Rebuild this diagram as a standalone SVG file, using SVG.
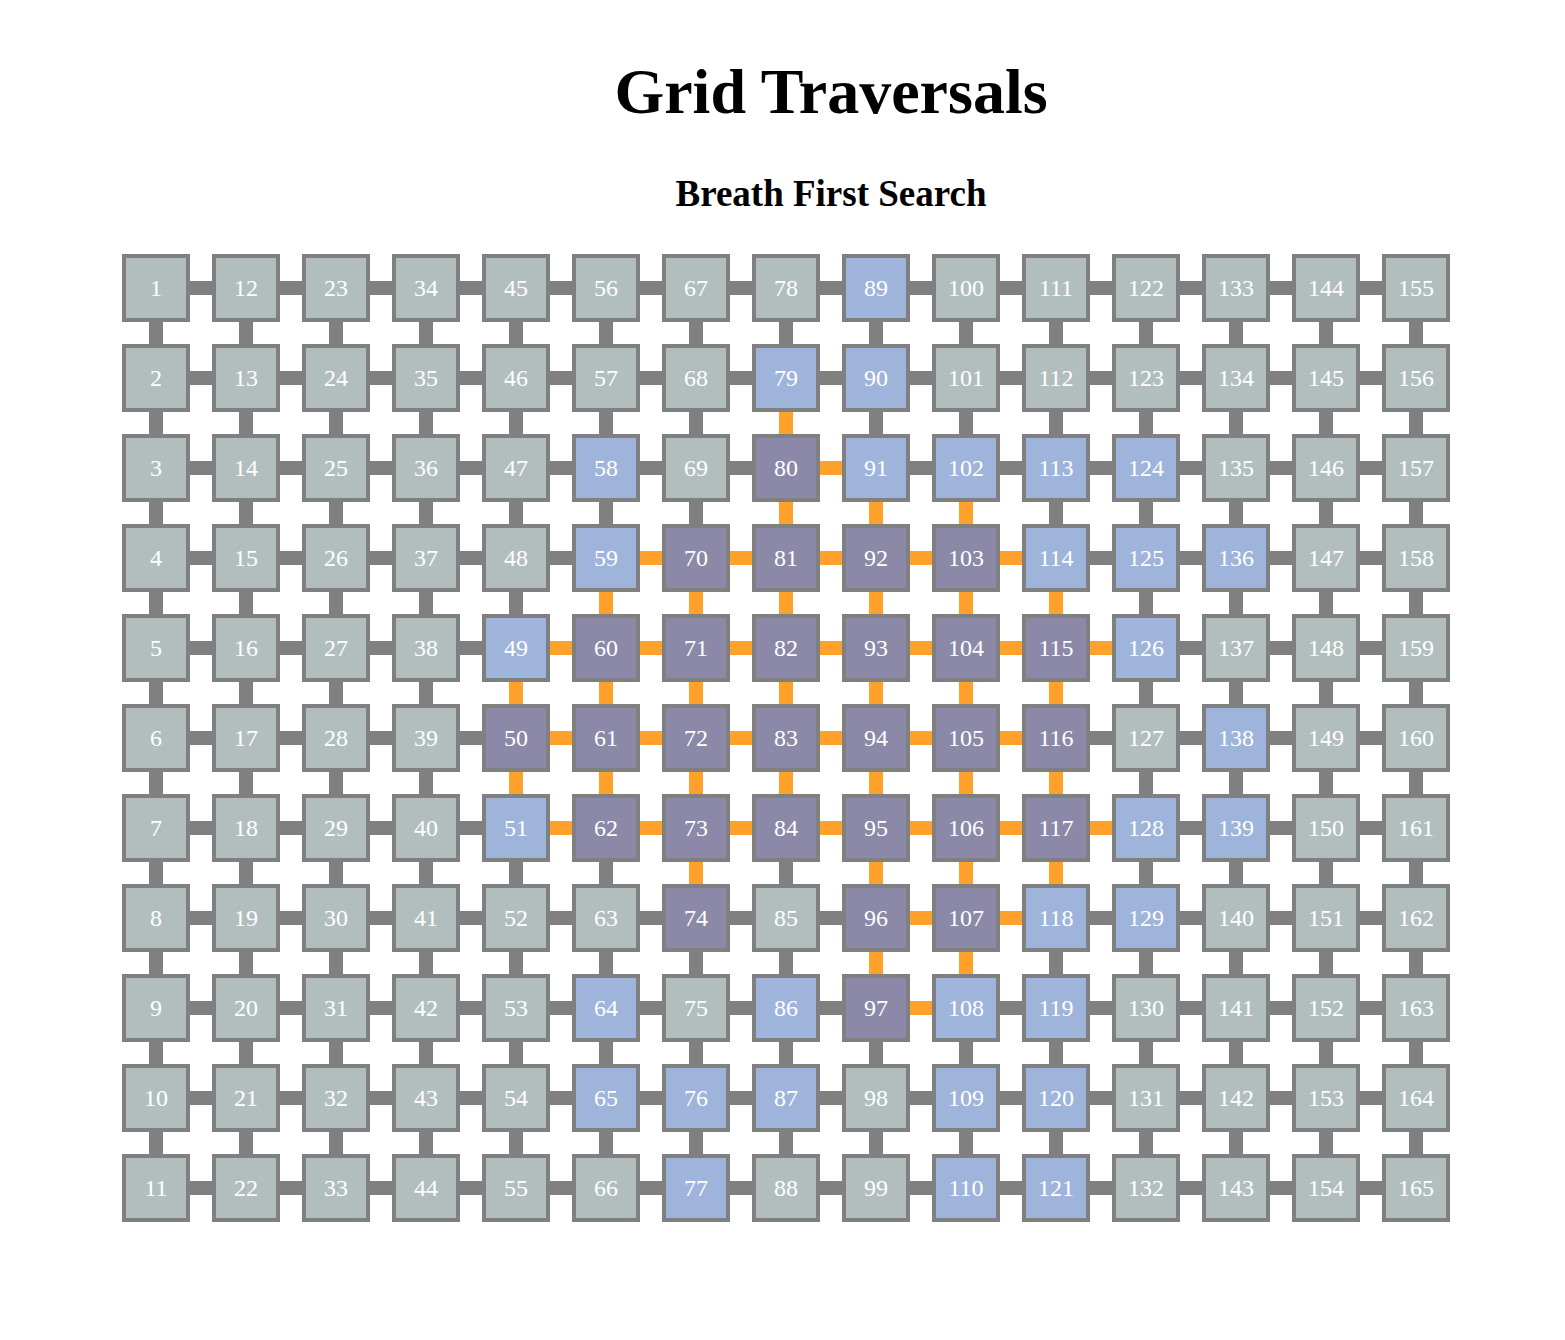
<svg xmlns="http://www.w3.org/2000/svg" width="1565" height="1340" viewBox="0 0 1565 1340">
<style>
.title{font-family:"Liberation Serif","Times New Roman",serif;font-weight:bold;fill:#000;text-anchor:middle}
#connectors line{stroke:#808080;stroke-width:14}
#connectors line.o{stroke:#ffa12b}
.node rect{stroke:#808080;stroke-width:4}
.node text{font-family:"Liberation Serif","Times New Roman",serif;font-size:24px;fill:#fff;text-anchor:middle}
.u rect{fill:#b2bebe}
.v rect{fill:#9fb4da}
.p rect{fill:#8b89a7}
</style>
<rect width="1565" height="1340" fill="#fff"/>
<text class="title" x="831" y="113" font-size="64">Grid Traversals</text>
<text class="title" x="831" y="206" font-size="37">Breath First Search</text>
<g id="connectors">
<!-- horizontal row 0 -->
<line x1="188" y1="288" x2="214" y2="288"/><line x1="278" y1="288" x2="304" y2="288"/><line x1="368" y1="288" x2="394" y2="288"/><line x1="458" y1="288" x2="484" y2="288"/><line x1="548" y1="288" x2="574" y2="288"/><line x1="638" y1="288" x2="664" y2="288"/><line x1="728" y1="288" x2="754" y2="288"/><line x1="818" y1="288" x2="844" y2="288"/><line x1="908" y1="288" x2="934" y2="288"/><line x1="998" y1="288" x2="1024" y2="288"/><line x1="1088" y1="288" x2="1114" y2="288"/><line x1="1178" y1="288" x2="1204" y2="288"/><line x1="1268" y1="288" x2="1294" y2="288"/><line x1="1358" y1="288" x2="1384" y2="288"/>
<!-- row 1 -->
<line x1="188" y1="378" x2="214" y2="378"/><line x1="278" y1="378" x2="304" y2="378"/><line x1="368" y1="378" x2="394" y2="378"/><line x1="458" y1="378" x2="484" y2="378"/><line x1="548" y1="378" x2="574" y2="378"/><line x1="638" y1="378" x2="664" y2="378"/><line x1="728" y1="378" x2="754" y2="378"/><line x1="818" y1="378" x2="844" y2="378"/><line x1="908" y1="378" x2="934" y2="378"/><line x1="998" y1="378" x2="1024" y2="378"/><line x1="1088" y1="378" x2="1114" y2="378"/><line x1="1178" y1="378" x2="1204" y2="378"/><line x1="1268" y1="378" x2="1294" y2="378"/><line x1="1358" y1="378" x2="1384" y2="378"/>
<!-- row 2 -->
<line x1="188" y1="468" x2="214" y2="468"/><line x1="278" y1="468" x2="304" y2="468"/><line x1="368" y1="468" x2="394" y2="468"/><line x1="458" y1="468" x2="484" y2="468"/><line x1="548" y1="468" x2="574" y2="468"/><line x1="638" y1="468" x2="664" y2="468"/><line x1="728" y1="468" x2="754" y2="468"/><line class="o" x1="818" y1="468" x2="844" y2="468"/><line x1="908" y1="468" x2="934" y2="468"/><line x1="998" y1="468" x2="1024" y2="468"/><line x1="1088" y1="468" x2="1114" y2="468"/><line x1="1178" y1="468" x2="1204" y2="468"/><line x1="1268" y1="468" x2="1294" y2="468"/><line x1="1358" y1="468" x2="1384" y2="468"/>
<!-- row 3 -->
<line x1="188" y1="558" x2="214" y2="558"/><line x1="278" y1="558" x2="304" y2="558"/><line x1="368" y1="558" x2="394" y2="558"/><line x1="458" y1="558" x2="484" y2="558"/><line x1="548" y1="558" x2="574" y2="558"/><line class="o" x1="638" y1="558" x2="664" y2="558"/><line class="o" x1="728" y1="558" x2="754" y2="558"/><line class="o" x1="818" y1="558" x2="844" y2="558"/><line class="o" x1="908" y1="558" x2="934" y2="558"/><line class="o" x1="998" y1="558" x2="1024" y2="558"/><line x1="1088" y1="558" x2="1114" y2="558"/><line x1="1178" y1="558" x2="1204" y2="558"/><line x1="1268" y1="558" x2="1294" y2="558"/><line x1="1358" y1="558" x2="1384" y2="558"/>
<!-- row 4 -->
<line x1="188" y1="648" x2="214" y2="648"/><line x1="278" y1="648" x2="304" y2="648"/><line x1="368" y1="648" x2="394" y2="648"/><line x1="458" y1="648" x2="484" y2="648"/><line class="o" x1="548" y1="648" x2="574" y2="648"/><line class="o" x1="638" y1="648" x2="664" y2="648"/><line class="o" x1="728" y1="648" x2="754" y2="648"/><line class="o" x1="818" y1="648" x2="844" y2="648"/><line class="o" x1="908" y1="648" x2="934" y2="648"/><line class="o" x1="998" y1="648" x2="1024" y2="648"/><line class="o" x1="1088" y1="648" x2="1114" y2="648"/><line x1="1178" y1="648" x2="1204" y2="648"/><line x1="1268" y1="648" x2="1294" y2="648"/><line x1="1358" y1="648" x2="1384" y2="648"/>
<!-- row 5 -->
<line x1="188" y1="738" x2="214" y2="738"/><line x1="278" y1="738" x2="304" y2="738"/><line x1="368" y1="738" x2="394" y2="738"/><line x1="458" y1="738" x2="484" y2="738"/><line class="o" x1="548" y1="738" x2="574" y2="738"/><line class="o" x1="638" y1="738" x2="664" y2="738"/><line class="o" x1="728" y1="738" x2="754" y2="738"/><line class="o" x1="818" y1="738" x2="844" y2="738"/><line class="o" x1="908" y1="738" x2="934" y2="738"/><line class="o" x1="998" y1="738" x2="1024" y2="738"/><line x1="1088" y1="738" x2="1114" y2="738"/><line x1="1178" y1="738" x2="1204" y2="738"/><line x1="1268" y1="738" x2="1294" y2="738"/><line x1="1358" y1="738" x2="1384" y2="738"/>
<!-- row 6 -->
<line x1="188" y1="828" x2="214" y2="828"/><line x1="278" y1="828" x2="304" y2="828"/><line x1="368" y1="828" x2="394" y2="828"/><line x1="458" y1="828" x2="484" y2="828"/><line class="o" x1="548" y1="828" x2="574" y2="828"/><line class="o" x1="638" y1="828" x2="664" y2="828"/><line class="o" x1="728" y1="828" x2="754" y2="828"/><line class="o" x1="818" y1="828" x2="844" y2="828"/><line class="o" x1="908" y1="828" x2="934" y2="828"/><line class="o" x1="998" y1="828" x2="1024" y2="828"/><line class="o" x1="1088" y1="828" x2="1114" y2="828"/><line x1="1178" y1="828" x2="1204" y2="828"/><line x1="1268" y1="828" x2="1294" y2="828"/><line x1="1358" y1="828" x2="1384" y2="828"/>
<!-- row 7 -->
<line x1="188" y1="918" x2="214" y2="918"/><line x1="278" y1="918" x2="304" y2="918"/><line x1="368" y1="918" x2="394" y2="918"/><line x1="458" y1="918" x2="484" y2="918"/><line x1="548" y1="918" x2="574" y2="918"/><line x1="638" y1="918" x2="664" y2="918"/><line x1="728" y1="918" x2="754" y2="918"/><line x1="818" y1="918" x2="844" y2="918"/><line class="o" x1="908" y1="918" x2="934" y2="918"/><line class="o" x1="998" y1="918" x2="1024" y2="918"/><line x1="1088" y1="918" x2="1114" y2="918"/><line x1="1178" y1="918" x2="1204" y2="918"/><line x1="1268" y1="918" x2="1294" y2="918"/><line x1="1358" y1="918" x2="1384" y2="918"/>
<!-- row 8 -->
<line x1="188" y1="1008" x2="214" y2="1008"/><line x1="278" y1="1008" x2="304" y2="1008"/><line x1="368" y1="1008" x2="394" y2="1008"/><line x1="458" y1="1008" x2="484" y2="1008"/><line x1="548" y1="1008" x2="574" y2="1008"/><line x1="638" y1="1008" x2="664" y2="1008"/><line x1="728" y1="1008" x2="754" y2="1008"/><line x1="818" y1="1008" x2="844" y2="1008"/><line class="o" x1="908" y1="1008" x2="934" y2="1008"/><line x1="998" y1="1008" x2="1024" y2="1008"/><line x1="1088" y1="1008" x2="1114" y2="1008"/><line x1="1178" y1="1008" x2="1204" y2="1008"/><line x1="1268" y1="1008" x2="1294" y2="1008"/><line x1="1358" y1="1008" x2="1384" y2="1008"/>
<!-- row 9 -->
<line x1="188" y1="1098" x2="214" y2="1098"/><line x1="278" y1="1098" x2="304" y2="1098"/><line x1="368" y1="1098" x2="394" y2="1098"/><line x1="458" y1="1098" x2="484" y2="1098"/><line x1="548" y1="1098" x2="574" y2="1098"/><line x1="638" y1="1098" x2="664" y2="1098"/><line x1="728" y1="1098" x2="754" y2="1098"/><line x1="818" y1="1098" x2="844" y2="1098"/><line x1="908" y1="1098" x2="934" y2="1098"/><line x1="998" y1="1098" x2="1024" y2="1098"/><line x1="1088" y1="1098" x2="1114" y2="1098"/><line x1="1178" y1="1098" x2="1204" y2="1098"/><line x1="1268" y1="1098" x2="1294" y2="1098"/><line x1="1358" y1="1098" x2="1384" y2="1098"/>
<!-- row 10 -->
<line x1="188" y1="1188" x2="214" y2="1188"/><line x1="278" y1="1188" x2="304" y2="1188"/><line x1="368" y1="1188" x2="394" y2="1188"/><line x1="458" y1="1188" x2="484" y2="1188"/><line x1="548" y1="1188" x2="574" y2="1188"/><line x1="638" y1="1188" x2="664" y2="1188"/><line x1="728" y1="1188" x2="754" y2="1188"/><line x1="818" y1="1188" x2="844" y2="1188"/><line x1="908" y1="1188" x2="934" y2="1188"/><line x1="998" y1="1188" x2="1024" y2="1188"/><line x1="1088" y1="1188" x2="1114" y2="1188"/><line x1="1178" y1="1188" x2="1204" y2="1188"/><line x1="1268" y1="1188" x2="1294" y2="1188"/><line x1="1358" y1="1188" x2="1384" y2="1188"/>
<!-- vertical col 0 -->
<line x1="156" y1="320" x2="156" y2="346"/><line x1="156" y1="410" x2="156" y2="436"/><line x1="156" y1="500" x2="156" y2="526"/><line x1="156" y1="590" x2="156" y2="616"/><line x1="156" y1="680" x2="156" y2="706"/><line x1="156" y1="770" x2="156" y2="796"/><line x1="156" y1="860" x2="156" y2="886"/><line x1="156" y1="950" x2="156" y2="976"/><line x1="156" y1="1040" x2="156" y2="1066"/><line x1="156" y1="1130" x2="156" y2="1156"/>
<!-- col 1 -->
<line x1="246" y1="320" x2="246" y2="346"/><line x1="246" y1="410" x2="246" y2="436"/><line x1="246" y1="500" x2="246" y2="526"/><line x1="246" y1="590" x2="246" y2="616"/><line x1="246" y1="680" x2="246" y2="706"/><line x1="246" y1="770" x2="246" y2="796"/><line x1="246" y1="860" x2="246" y2="886"/><line x1="246" y1="950" x2="246" y2="976"/><line x1="246" y1="1040" x2="246" y2="1066"/><line x1="246" y1="1130" x2="246" y2="1156"/>
<!-- col 2 -->
<line x1="336" y1="320" x2="336" y2="346"/><line x1="336" y1="410" x2="336" y2="436"/><line x1="336" y1="500" x2="336" y2="526"/><line x1="336" y1="590" x2="336" y2="616"/><line x1="336" y1="680" x2="336" y2="706"/><line x1="336" y1="770" x2="336" y2="796"/><line x1="336" y1="860" x2="336" y2="886"/><line x1="336" y1="950" x2="336" y2="976"/><line x1="336" y1="1040" x2="336" y2="1066"/><line x1="336" y1="1130" x2="336" y2="1156"/>
<!-- col 3 -->
<line x1="426" y1="320" x2="426" y2="346"/><line x1="426" y1="410" x2="426" y2="436"/><line x1="426" y1="500" x2="426" y2="526"/><line x1="426" y1="590" x2="426" y2="616"/><line x1="426" y1="680" x2="426" y2="706"/><line x1="426" y1="770" x2="426" y2="796"/><line x1="426" y1="860" x2="426" y2="886"/><line x1="426" y1="950" x2="426" y2="976"/><line x1="426" y1="1040" x2="426" y2="1066"/><line x1="426" y1="1130" x2="426" y2="1156"/>
<!-- col 4 -->
<line x1="516" y1="320" x2="516" y2="346"/><line x1="516" y1="410" x2="516" y2="436"/><line x1="516" y1="500" x2="516" y2="526"/><line x1="516" y1="590" x2="516" y2="616"/><line class="o" x1="516" y1="680" x2="516" y2="706"/><line class="o" x1="516" y1="770" x2="516" y2="796"/><line x1="516" y1="860" x2="516" y2="886"/><line x1="516" y1="950" x2="516" y2="976"/><line x1="516" y1="1040" x2="516" y2="1066"/><line x1="516" y1="1130" x2="516" y2="1156"/>
<!-- col 5 -->
<line x1="606" y1="320" x2="606" y2="346"/><line x1="606" y1="410" x2="606" y2="436"/><line x1="606" y1="500" x2="606" y2="526"/><line class="o" x1="606" y1="590" x2="606" y2="616"/><line class="o" x1="606" y1="680" x2="606" y2="706"/><line class="o" x1="606" y1="770" x2="606" y2="796"/><line x1="606" y1="860" x2="606" y2="886"/><line x1="606" y1="950" x2="606" y2="976"/><line x1="606" y1="1040" x2="606" y2="1066"/><line x1="606" y1="1130" x2="606" y2="1156"/>
<!-- col 6 -->
<line x1="696" y1="320" x2="696" y2="346"/><line x1="696" y1="410" x2="696" y2="436"/><line x1="696" y1="500" x2="696" y2="526"/><line class="o" x1="696" y1="590" x2="696" y2="616"/><line class="o" x1="696" y1="680" x2="696" y2="706"/><line class="o" x1="696" y1="770" x2="696" y2="796"/><line class="o" x1="696" y1="860" x2="696" y2="886"/><line x1="696" y1="950" x2="696" y2="976"/><line x1="696" y1="1040" x2="696" y2="1066"/><line x1="696" y1="1130" x2="696" y2="1156"/>
<!-- col 7 -->
<line x1="786" y1="320" x2="786" y2="346"/><line class="o" x1="786" y1="410" x2="786" y2="436"/><line class="o" x1="786" y1="500" x2="786" y2="526"/><line class="o" x1="786" y1="590" x2="786" y2="616"/><line class="o" x1="786" y1="680" x2="786" y2="706"/><line class="o" x1="786" y1="770" x2="786" y2="796"/><line x1="786" y1="860" x2="786" y2="886"/><line x1="786" y1="950" x2="786" y2="976"/><line x1="786" y1="1040" x2="786" y2="1066"/><line x1="786" y1="1130" x2="786" y2="1156"/>
<!-- col 8 -->
<line x1="876" y1="320" x2="876" y2="346"/><line x1="876" y1="410" x2="876" y2="436"/><line class="o" x1="876" y1="500" x2="876" y2="526"/><line class="o" x1="876" y1="590" x2="876" y2="616"/><line class="o" x1="876" y1="680" x2="876" y2="706"/><line class="o" x1="876" y1="770" x2="876" y2="796"/><line class="o" x1="876" y1="860" x2="876" y2="886"/><line class="o" x1="876" y1="950" x2="876" y2="976"/><line x1="876" y1="1040" x2="876" y2="1066"/><line x1="876" y1="1130" x2="876" y2="1156"/>
<!-- col 9 -->
<line x1="966" y1="320" x2="966" y2="346"/><line x1="966" y1="410" x2="966" y2="436"/><line class="o" x1="966" y1="500" x2="966" y2="526"/><line class="o" x1="966" y1="590" x2="966" y2="616"/><line class="o" x1="966" y1="680" x2="966" y2="706"/><line class="o" x1="966" y1="770" x2="966" y2="796"/><line class="o" x1="966" y1="860" x2="966" y2="886"/><line class="o" x1="966" y1="950" x2="966" y2="976"/><line x1="966" y1="1040" x2="966" y2="1066"/><line x1="966" y1="1130" x2="966" y2="1156"/>
<!-- col 10 -->
<line x1="1056" y1="320" x2="1056" y2="346"/><line x1="1056" y1="410" x2="1056" y2="436"/><line x1="1056" y1="500" x2="1056" y2="526"/><line class="o" x1="1056" y1="590" x2="1056" y2="616"/><line class="o" x1="1056" y1="680" x2="1056" y2="706"/><line class="o" x1="1056" y1="770" x2="1056" y2="796"/><line class="o" x1="1056" y1="860" x2="1056" y2="886"/><line x1="1056" y1="950" x2="1056" y2="976"/><line x1="1056" y1="1040" x2="1056" y2="1066"/><line x1="1056" y1="1130" x2="1056" y2="1156"/>
<!-- col 11 -->
<line x1="1146" y1="320" x2="1146" y2="346"/><line x1="1146" y1="410" x2="1146" y2="436"/><line x1="1146" y1="500" x2="1146" y2="526"/><line x1="1146" y1="590" x2="1146" y2="616"/><line x1="1146" y1="680" x2="1146" y2="706"/><line x1="1146" y1="770" x2="1146" y2="796"/><line x1="1146" y1="860" x2="1146" y2="886"/><line x1="1146" y1="950" x2="1146" y2="976"/><line x1="1146" y1="1040" x2="1146" y2="1066"/><line x1="1146" y1="1130" x2="1146" y2="1156"/>
<!-- col 12 -->
<line x1="1236" y1="320" x2="1236" y2="346"/><line x1="1236" y1="410" x2="1236" y2="436"/><line x1="1236" y1="500" x2="1236" y2="526"/><line x1="1236" y1="590" x2="1236" y2="616"/><line x1="1236" y1="680" x2="1236" y2="706"/><line x1="1236" y1="770" x2="1236" y2="796"/><line x1="1236" y1="860" x2="1236" y2="886"/><line x1="1236" y1="950" x2="1236" y2="976"/><line x1="1236" y1="1040" x2="1236" y2="1066"/><line x1="1236" y1="1130" x2="1236" y2="1156"/>
<!-- col 13 -->
<line x1="1326" y1="320" x2="1326" y2="346"/><line x1="1326" y1="410" x2="1326" y2="436"/><line x1="1326" y1="500" x2="1326" y2="526"/><line x1="1326" y1="590" x2="1326" y2="616"/><line x1="1326" y1="680" x2="1326" y2="706"/><line x1="1326" y1="770" x2="1326" y2="796"/><line x1="1326" y1="860" x2="1326" y2="886"/><line x1="1326" y1="950" x2="1326" y2="976"/><line x1="1326" y1="1040" x2="1326" y2="1066"/><line x1="1326" y1="1130" x2="1326" y2="1156"/>
<!-- col 14 -->
<line x1="1416" y1="320" x2="1416" y2="346"/><line x1="1416" y1="410" x2="1416" y2="436"/><line x1="1416" y1="500" x2="1416" y2="526"/><line x1="1416" y1="590" x2="1416" y2="616"/><line x1="1416" y1="680" x2="1416" y2="706"/><line x1="1416" y1="770" x2="1416" y2="796"/><line x1="1416" y1="860" x2="1416" y2="886"/><line x1="1416" y1="950" x2="1416" y2="976"/><line x1="1416" y1="1040" x2="1416" y2="1066"/><line x1="1416" y1="1130" x2="1416" y2="1156"/>
</g>
<g id="nodes">
<g id="node-1" class="node u" transform="translate(156,288)"><rect x="-32" y="-32" width="64" height="64"/><text y="8">1</text></g>
<g id="node-2" class="node u" transform="translate(156,378)"><rect x="-32" y="-32" width="64" height="64"/><text y="8">2</text></g>
<g id="node-3" class="node u" transform="translate(156,468)"><rect x="-32" y="-32" width="64" height="64"/><text y="8">3</text></g>
<g id="node-4" class="node u" transform="translate(156,558)"><rect x="-32" y="-32" width="64" height="64"/><text y="8">4</text></g>
<g id="node-5" class="node u" transform="translate(156,648)"><rect x="-32" y="-32" width="64" height="64"/><text y="8">5</text></g>
<g id="node-6" class="node u" transform="translate(156,738)"><rect x="-32" y="-32" width="64" height="64"/><text y="8">6</text></g>
<g id="node-7" class="node u" transform="translate(156,828)"><rect x="-32" y="-32" width="64" height="64"/><text y="8">7</text></g>
<g id="node-8" class="node u" transform="translate(156,918)"><rect x="-32" y="-32" width="64" height="64"/><text y="8">8</text></g>
<g id="node-9" class="node u" transform="translate(156,1008)"><rect x="-32" y="-32" width="64" height="64"/><text y="8">9</text></g>
<g id="node-10" class="node u" transform="translate(156,1098)"><rect x="-32" y="-32" width="64" height="64"/><text y="8">10</text></g>
<g id="node-11" class="node u" transform="translate(156,1188)"><rect x="-32" y="-32" width="64" height="64"/><text y="8">11</text></g>
<g id="node-12" class="node u" transform="translate(246,288)"><rect x="-32" y="-32" width="64" height="64"/><text y="8">12</text></g>
<g id="node-13" class="node u" transform="translate(246,378)"><rect x="-32" y="-32" width="64" height="64"/><text y="8">13</text></g>
<g id="node-14" class="node u" transform="translate(246,468)"><rect x="-32" y="-32" width="64" height="64"/><text y="8">14</text></g>
<g id="node-15" class="node u" transform="translate(246,558)"><rect x="-32" y="-32" width="64" height="64"/><text y="8">15</text></g>
<g id="node-16" class="node u" transform="translate(246,648)"><rect x="-32" y="-32" width="64" height="64"/><text y="8">16</text></g>
<g id="node-17" class="node u" transform="translate(246,738)"><rect x="-32" y="-32" width="64" height="64"/><text y="8">17</text></g>
<g id="node-18" class="node u" transform="translate(246,828)"><rect x="-32" y="-32" width="64" height="64"/><text y="8">18</text></g>
<g id="node-19" class="node u" transform="translate(246,918)"><rect x="-32" y="-32" width="64" height="64"/><text y="8">19</text></g>
<g id="node-20" class="node u" transform="translate(246,1008)"><rect x="-32" y="-32" width="64" height="64"/><text y="8">20</text></g>
<g id="node-21" class="node u" transform="translate(246,1098)"><rect x="-32" y="-32" width="64" height="64"/><text y="8">21</text></g>
<g id="node-22" class="node u" transform="translate(246,1188)"><rect x="-32" y="-32" width="64" height="64"/><text y="8">22</text></g>
<g id="node-23" class="node u" transform="translate(336,288)"><rect x="-32" y="-32" width="64" height="64"/><text y="8">23</text></g>
<g id="node-24" class="node u" transform="translate(336,378)"><rect x="-32" y="-32" width="64" height="64"/><text y="8">24</text></g>
<g id="node-25" class="node u" transform="translate(336,468)"><rect x="-32" y="-32" width="64" height="64"/><text y="8">25</text></g>
<g id="node-26" class="node u" transform="translate(336,558)"><rect x="-32" y="-32" width="64" height="64"/><text y="8">26</text></g>
<g id="node-27" class="node u" transform="translate(336,648)"><rect x="-32" y="-32" width="64" height="64"/><text y="8">27</text></g>
<g id="node-28" class="node u" transform="translate(336,738)"><rect x="-32" y="-32" width="64" height="64"/><text y="8">28</text></g>
<g id="node-29" class="node u" transform="translate(336,828)"><rect x="-32" y="-32" width="64" height="64"/><text y="8">29</text></g>
<g id="node-30" class="node u" transform="translate(336,918)"><rect x="-32" y="-32" width="64" height="64"/><text y="8">30</text></g>
<g id="node-31" class="node u" transform="translate(336,1008)"><rect x="-32" y="-32" width="64" height="64"/><text y="8">31</text></g>
<g id="node-32" class="node u" transform="translate(336,1098)"><rect x="-32" y="-32" width="64" height="64"/><text y="8">32</text></g>
<g id="node-33" class="node u" transform="translate(336,1188)"><rect x="-32" y="-32" width="64" height="64"/><text y="8">33</text></g>
<g id="node-34" class="node u" transform="translate(426,288)"><rect x="-32" y="-32" width="64" height="64"/><text y="8">34</text></g>
<g id="node-35" class="node u" transform="translate(426,378)"><rect x="-32" y="-32" width="64" height="64"/><text y="8">35</text></g>
<g id="node-36" class="node u" transform="translate(426,468)"><rect x="-32" y="-32" width="64" height="64"/><text y="8">36</text></g>
<g id="node-37" class="node u" transform="translate(426,558)"><rect x="-32" y="-32" width="64" height="64"/><text y="8">37</text></g>
<g id="node-38" class="node u" transform="translate(426,648)"><rect x="-32" y="-32" width="64" height="64"/><text y="8">38</text></g>
<g id="node-39" class="node u" transform="translate(426,738)"><rect x="-32" y="-32" width="64" height="64"/><text y="8">39</text></g>
<g id="node-40" class="node u" transform="translate(426,828)"><rect x="-32" y="-32" width="64" height="64"/><text y="8">40</text></g>
<g id="node-41" class="node u" transform="translate(426,918)"><rect x="-32" y="-32" width="64" height="64"/><text y="8">41</text></g>
<g id="node-42" class="node u" transform="translate(426,1008)"><rect x="-32" y="-32" width="64" height="64"/><text y="8">42</text></g>
<g id="node-43" class="node u" transform="translate(426,1098)"><rect x="-32" y="-32" width="64" height="64"/><text y="8">43</text></g>
<g id="node-44" class="node u" transform="translate(426,1188)"><rect x="-32" y="-32" width="64" height="64"/><text y="8">44</text></g>
<g id="node-45" class="node u" transform="translate(516,288)"><rect x="-32" y="-32" width="64" height="64"/><text y="8">45</text></g>
<g id="node-46" class="node u" transform="translate(516,378)"><rect x="-32" y="-32" width="64" height="64"/><text y="8">46</text></g>
<g id="node-47" class="node u" transform="translate(516,468)"><rect x="-32" y="-32" width="64" height="64"/><text y="8">47</text></g>
<g id="node-48" class="node u" transform="translate(516,558)"><rect x="-32" y="-32" width="64" height="64"/><text y="8">48</text></g>
<g id="node-49" class="node v" transform="translate(516,648)"><rect x="-32" y="-32" width="64" height="64"/><text y="8">49</text></g>
<g id="node-50" class="node p" transform="translate(516,738)"><rect x="-32" y="-32" width="64" height="64"/><text y="8">50</text></g>
<g id="node-51" class="node v" transform="translate(516,828)"><rect x="-32" y="-32" width="64" height="64"/><text y="8">51</text></g>
<g id="node-52" class="node u" transform="translate(516,918)"><rect x="-32" y="-32" width="64" height="64"/><text y="8">52</text></g>
<g id="node-53" class="node u" transform="translate(516,1008)"><rect x="-32" y="-32" width="64" height="64"/><text y="8">53</text></g>
<g id="node-54" class="node u" transform="translate(516,1098)"><rect x="-32" y="-32" width="64" height="64"/><text y="8">54</text></g>
<g id="node-55" class="node u" transform="translate(516,1188)"><rect x="-32" y="-32" width="64" height="64"/><text y="8">55</text></g>
<g id="node-56" class="node u" transform="translate(606,288)"><rect x="-32" y="-32" width="64" height="64"/><text y="8">56</text></g>
<g id="node-57" class="node u" transform="translate(606,378)"><rect x="-32" y="-32" width="64" height="64"/><text y="8">57</text></g>
<g id="node-58" class="node v" transform="translate(606,468)"><rect x="-32" y="-32" width="64" height="64"/><text y="8">58</text></g>
<g id="node-59" class="node v" transform="translate(606,558)"><rect x="-32" y="-32" width="64" height="64"/><text y="8">59</text></g>
<g id="node-60" class="node p" transform="translate(606,648)"><rect x="-32" y="-32" width="64" height="64"/><text y="8">60</text></g>
<g id="node-61" class="node p" transform="translate(606,738)"><rect x="-32" y="-32" width="64" height="64"/><text y="8">61</text></g>
<g id="node-62" class="node p" transform="translate(606,828)"><rect x="-32" y="-32" width="64" height="64"/><text y="8">62</text></g>
<g id="node-63" class="node u" transform="translate(606,918)"><rect x="-32" y="-32" width="64" height="64"/><text y="8">63</text></g>
<g id="node-64" class="node v" transform="translate(606,1008)"><rect x="-32" y="-32" width="64" height="64"/><text y="8">64</text></g>
<g id="node-65" class="node v" transform="translate(606,1098)"><rect x="-32" y="-32" width="64" height="64"/><text y="8">65</text></g>
<g id="node-66" class="node u" transform="translate(606,1188)"><rect x="-32" y="-32" width="64" height="64"/><text y="8">66</text></g>
<g id="node-67" class="node u" transform="translate(696,288)"><rect x="-32" y="-32" width="64" height="64"/><text y="8">67</text></g>
<g id="node-68" class="node u" transform="translate(696,378)"><rect x="-32" y="-32" width="64" height="64"/><text y="8">68</text></g>
<g id="node-69" class="node u" transform="translate(696,468)"><rect x="-32" y="-32" width="64" height="64"/><text y="8">69</text></g>
<g id="node-70" class="node p" transform="translate(696,558)"><rect x="-32" y="-32" width="64" height="64"/><text y="8">70</text></g>
<g id="node-71" class="node p" transform="translate(696,648)"><rect x="-32" y="-32" width="64" height="64"/><text y="8">71</text></g>
<g id="node-72" class="node p" transform="translate(696,738)"><rect x="-32" y="-32" width="64" height="64"/><text y="8">72</text></g>
<g id="node-73" class="node p" transform="translate(696,828)"><rect x="-32" y="-32" width="64" height="64"/><text y="8">73</text></g>
<g id="node-74" class="node p" transform="translate(696,918)"><rect x="-32" y="-32" width="64" height="64"/><text y="8">74</text></g>
<g id="node-75" class="node u" transform="translate(696,1008)"><rect x="-32" y="-32" width="64" height="64"/><text y="8">75</text></g>
<g id="node-76" class="node v" transform="translate(696,1098)"><rect x="-32" y="-32" width="64" height="64"/><text y="8">76</text></g>
<g id="node-77" class="node v" transform="translate(696,1188)"><rect x="-32" y="-32" width="64" height="64"/><text y="8">77</text></g>
<g id="node-78" class="node u" transform="translate(786,288)"><rect x="-32" y="-32" width="64" height="64"/><text y="8">78</text></g>
<g id="node-79" class="node v" transform="translate(786,378)"><rect x="-32" y="-32" width="64" height="64"/><text y="8">79</text></g>
<g id="node-80" class="node p" transform="translate(786,468)"><rect x="-32" y="-32" width="64" height="64"/><text y="8">80</text></g>
<g id="node-81" class="node p" transform="translate(786,558)"><rect x="-32" y="-32" width="64" height="64"/><text y="8">81</text></g>
<g id="node-82" class="node p" transform="translate(786,648)"><rect x="-32" y="-32" width="64" height="64"/><text y="8">82</text></g>
<g id="node-83" class="node p" transform="translate(786,738)"><rect x="-32" y="-32" width="64" height="64"/><text y="8">83</text></g>
<g id="node-84" class="node p" transform="translate(786,828)"><rect x="-32" y="-32" width="64" height="64"/><text y="8">84</text></g>
<g id="node-85" class="node u" transform="translate(786,918)"><rect x="-32" y="-32" width="64" height="64"/><text y="8">85</text></g>
<g id="node-86" class="node v" transform="translate(786,1008)"><rect x="-32" y="-32" width="64" height="64"/><text y="8">86</text></g>
<g id="node-87" class="node v" transform="translate(786,1098)"><rect x="-32" y="-32" width="64" height="64"/><text y="8">87</text></g>
<g id="node-88" class="node u" transform="translate(786,1188)"><rect x="-32" y="-32" width="64" height="64"/><text y="8">88</text></g>
<g id="node-89" class="node v" transform="translate(876,288)"><rect x="-32" y="-32" width="64" height="64"/><text y="8">89</text></g>
<g id="node-90" class="node v" transform="translate(876,378)"><rect x="-32" y="-32" width="64" height="64"/><text y="8">90</text></g>
<g id="node-91" class="node v" transform="translate(876,468)"><rect x="-32" y="-32" width="64" height="64"/><text y="8">91</text></g>
<g id="node-92" class="node p" transform="translate(876,558)"><rect x="-32" y="-32" width="64" height="64"/><text y="8">92</text></g>
<g id="node-93" class="node p" transform="translate(876,648)"><rect x="-32" y="-32" width="64" height="64"/><text y="8">93</text></g>
<g id="node-94" class="node p" transform="translate(876,738)"><rect x="-32" y="-32" width="64" height="64"/><text y="8">94</text></g>
<g id="node-95" class="node p" transform="translate(876,828)"><rect x="-32" y="-32" width="64" height="64"/><text y="8">95</text></g>
<g id="node-96" class="node p" transform="translate(876,918)"><rect x="-32" y="-32" width="64" height="64"/><text y="8">96</text></g>
<g id="node-97" class="node p" transform="translate(876,1008)"><rect x="-32" y="-32" width="64" height="64"/><text y="8">97</text></g>
<g id="node-98" class="node u" transform="translate(876,1098)"><rect x="-32" y="-32" width="64" height="64"/><text y="8">98</text></g>
<g id="node-99" class="node u" transform="translate(876,1188)"><rect x="-32" y="-32" width="64" height="64"/><text y="8">99</text></g>
<g id="node-100" class="node u" transform="translate(966,288)"><rect x="-32" y="-32" width="64" height="64"/><text y="8">100</text></g>
<g id="node-101" class="node u" transform="translate(966,378)"><rect x="-32" y="-32" width="64" height="64"/><text y="8">101</text></g>
<g id="node-102" class="node v" transform="translate(966,468)"><rect x="-32" y="-32" width="64" height="64"/><text y="8">102</text></g>
<g id="node-103" class="node p" transform="translate(966,558)"><rect x="-32" y="-32" width="64" height="64"/><text y="8">103</text></g>
<g id="node-104" class="node p" transform="translate(966,648)"><rect x="-32" y="-32" width="64" height="64"/><text y="8">104</text></g>
<g id="node-105" class="node p" transform="translate(966,738)"><rect x="-32" y="-32" width="64" height="64"/><text y="8">105</text></g>
<g id="node-106" class="node p" transform="translate(966,828)"><rect x="-32" y="-32" width="64" height="64"/><text y="8">106</text></g>
<g id="node-107" class="node p" transform="translate(966,918)"><rect x="-32" y="-32" width="64" height="64"/><text y="8">107</text></g>
<g id="node-108" class="node v" transform="translate(966,1008)"><rect x="-32" y="-32" width="64" height="64"/><text y="8">108</text></g>
<g id="node-109" class="node v" transform="translate(966,1098)"><rect x="-32" y="-32" width="64" height="64"/><text y="8">109</text></g>
<g id="node-110" class="node v" transform="translate(966,1188)"><rect x="-32" y="-32" width="64" height="64"/><text y="8">110</text></g>
<g id="node-111" class="node u" transform="translate(1056,288)"><rect x="-32" y="-32" width="64" height="64"/><text y="8">111</text></g>
<g id="node-112" class="node u" transform="translate(1056,378)"><rect x="-32" y="-32" width="64" height="64"/><text y="8">112</text></g>
<g id="node-113" class="node v" transform="translate(1056,468)"><rect x="-32" y="-32" width="64" height="64"/><text y="8">113</text></g>
<g id="node-114" class="node v" transform="translate(1056,558)"><rect x="-32" y="-32" width="64" height="64"/><text y="8">114</text></g>
<g id="node-115" class="node p" transform="translate(1056,648)"><rect x="-32" y="-32" width="64" height="64"/><text y="8">115</text></g>
<g id="node-116" class="node p" transform="translate(1056,738)"><rect x="-32" y="-32" width="64" height="64"/><text y="8">116</text></g>
<g id="node-117" class="node p" transform="translate(1056,828)"><rect x="-32" y="-32" width="64" height="64"/><text y="8">117</text></g>
<g id="node-118" class="node v" transform="translate(1056,918)"><rect x="-32" y="-32" width="64" height="64"/><text y="8">118</text></g>
<g id="node-119" class="node v" transform="translate(1056,1008)"><rect x="-32" y="-32" width="64" height="64"/><text y="8">119</text></g>
<g id="node-120" class="node v" transform="translate(1056,1098)"><rect x="-32" y="-32" width="64" height="64"/><text y="8">120</text></g>
<g id="node-121" class="node v" transform="translate(1056,1188)"><rect x="-32" y="-32" width="64" height="64"/><text y="8">121</text></g>
<g id="node-122" class="node u" transform="translate(1146,288)"><rect x="-32" y="-32" width="64" height="64"/><text y="8">122</text></g>
<g id="node-123" class="node u" transform="translate(1146,378)"><rect x="-32" y="-32" width="64" height="64"/><text y="8">123</text></g>
<g id="node-124" class="node v" transform="translate(1146,468)"><rect x="-32" y="-32" width="64" height="64"/><text y="8">124</text></g>
<g id="node-125" class="node v" transform="translate(1146,558)"><rect x="-32" y="-32" width="64" height="64"/><text y="8">125</text></g>
<g id="node-126" class="node v" transform="translate(1146,648)"><rect x="-32" y="-32" width="64" height="64"/><text y="8">126</text></g>
<g id="node-127" class="node u" transform="translate(1146,738)"><rect x="-32" y="-32" width="64" height="64"/><text y="8">127</text></g>
<g id="node-128" class="node v" transform="translate(1146,828)"><rect x="-32" y="-32" width="64" height="64"/><text y="8">128</text></g>
<g id="node-129" class="node v" transform="translate(1146,918)"><rect x="-32" y="-32" width="64" height="64"/><text y="8">129</text></g>
<g id="node-130" class="node u" transform="translate(1146,1008)"><rect x="-32" y="-32" width="64" height="64"/><text y="8">130</text></g>
<g id="node-131" class="node u" transform="translate(1146,1098)"><rect x="-32" y="-32" width="64" height="64"/><text y="8">131</text></g>
<g id="node-132" class="node u" transform="translate(1146,1188)"><rect x="-32" y="-32" width="64" height="64"/><text y="8">132</text></g>
<g id="node-133" class="node u" transform="translate(1236,288)"><rect x="-32" y="-32" width="64" height="64"/><text y="8">133</text></g>
<g id="node-134" class="node u" transform="translate(1236,378)"><rect x="-32" y="-32" width="64" height="64"/><text y="8">134</text></g>
<g id="node-135" class="node u" transform="translate(1236,468)"><rect x="-32" y="-32" width="64" height="64"/><text y="8">135</text></g>
<g id="node-136" class="node v" transform="translate(1236,558)"><rect x="-32" y="-32" width="64" height="64"/><text y="8">136</text></g>
<g id="node-137" class="node u" transform="translate(1236,648)"><rect x="-32" y="-32" width="64" height="64"/><text y="8">137</text></g>
<g id="node-138" class="node v" transform="translate(1236,738)"><rect x="-32" y="-32" width="64" height="64"/><text y="8">138</text></g>
<g id="node-139" class="node v" transform="translate(1236,828)"><rect x="-32" y="-32" width="64" height="64"/><text y="8">139</text></g>
<g id="node-140" class="node u" transform="translate(1236,918)"><rect x="-32" y="-32" width="64" height="64"/><text y="8">140</text></g>
<g id="node-141" class="node u" transform="translate(1236,1008)"><rect x="-32" y="-32" width="64" height="64"/><text y="8">141</text></g>
<g id="node-142" class="node u" transform="translate(1236,1098)"><rect x="-32" y="-32" width="64" height="64"/><text y="8">142</text></g>
<g id="node-143" class="node u" transform="translate(1236,1188)"><rect x="-32" y="-32" width="64" height="64"/><text y="8">143</text></g>
<g id="node-144" class="node u" transform="translate(1326,288)"><rect x="-32" y="-32" width="64" height="64"/><text y="8">144</text></g>
<g id="node-145" class="node u" transform="translate(1326,378)"><rect x="-32" y="-32" width="64" height="64"/><text y="8">145</text></g>
<g id="node-146" class="node u" transform="translate(1326,468)"><rect x="-32" y="-32" width="64" height="64"/><text y="8">146</text></g>
<g id="node-147" class="node u" transform="translate(1326,558)"><rect x="-32" y="-32" width="64" height="64"/><text y="8">147</text></g>
<g id="node-148" class="node u" transform="translate(1326,648)"><rect x="-32" y="-32" width="64" height="64"/><text y="8">148</text></g>
<g id="node-149" class="node u" transform="translate(1326,738)"><rect x="-32" y="-32" width="64" height="64"/><text y="8">149</text></g>
<g id="node-150" class="node u" transform="translate(1326,828)"><rect x="-32" y="-32" width="64" height="64"/><text y="8">150</text></g>
<g id="node-151" class="node u" transform="translate(1326,918)"><rect x="-32" y="-32" width="64" height="64"/><text y="8">151</text></g>
<g id="node-152" class="node u" transform="translate(1326,1008)"><rect x="-32" y="-32" width="64" height="64"/><text y="8">152</text></g>
<g id="node-153" class="node u" transform="translate(1326,1098)"><rect x="-32" y="-32" width="64" height="64"/><text y="8">153</text></g>
<g id="node-154" class="node u" transform="translate(1326,1188)"><rect x="-32" y="-32" width="64" height="64"/><text y="8">154</text></g>
<g id="node-155" class="node u" transform="translate(1416,288)"><rect x="-32" y="-32" width="64" height="64"/><text y="8">155</text></g>
<g id="node-156" class="node u" transform="translate(1416,378)"><rect x="-32" y="-32" width="64" height="64"/><text y="8">156</text></g>
<g id="node-157" class="node u" transform="translate(1416,468)"><rect x="-32" y="-32" width="64" height="64"/><text y="8">157</text></g>
<g id="node-158" class="node u" transform="translate(1416,558)"><rect x="-32" y="-32" width="64" height="64"/><text y="8">158</text></g>
<g id="node-159" class="node u" transform="translate(1416,648)"><rect x="-32" y="-32" width="64" height="64"/><text y="8">159</text></g>
<g id="node-160" class="node u" transform="translate(1416,738)"><rect x="-32" y="-32" width="64" height="64"/><text y="8">160</text></g>
<g id="node-161" class="node u" transform="translate(1416,828)"><rect x="-32" y="-32" width="64" height="64"/><text y="8">161</text></g>
<g id="node-162" class="node u" transform="translate(1416,918)"><rect x="-32" y="-32" width="64" height="64"/><text y="8">162</text></g>
<g id="node-163" class="node u" transform="translate(1416,1008)"><rect x="-32" y="-32" width="64" height="64"/><text y="8">163</text></g>
<g id="node-164" class="node u" transform="translate(1416,1098)"><rect x="-32" y="-32" width="64" height="64"/><text y="8">164</text></g>
<g id="node-165" class="node u" transform="translate(1416,1188)"><rect x="-32" y="-32" width="64" height="64"/><text y="8">165</text></g>
</g>
</svg>
